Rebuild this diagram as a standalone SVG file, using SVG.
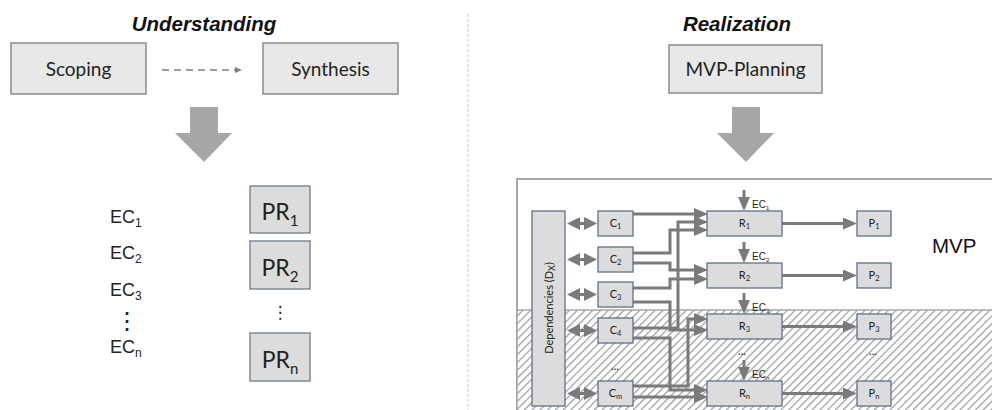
<svg xmlns="http://www.w3.org/2000/svg" width="992" height="410" viewBox="0 0 992 410">
<style>
.title{font-family:"Liberation Sans",Arial,sans-serif;font-weight:bold;font-style:italic;font-size:20.5px;fill:#111;text-anchor:middle}
.bigbox{fill:#e8e8e8;stroke:#8a8a8a;stroke-width:1.5}
.btxt{font-family:Lato,"Open Sans",sans-serif;font-size:19px;fill:#222;text-anchor:middle}
.prbox{fill:#dcdcdc;stroke:#7f8b99;stroke-width:1.5}
.prtxt{font-family:Lato,"Open Sans",sans-serif;font-size:23px;fill:#222;text-anchor:middle}
.ectxt{font-family:"Liberation Sans",Arial,sans-serif;font-size:18px;fill:#222}
.sbox{fill:#dcdcdc;stroke:#5f7188;stroke-width:1.3}
.stxt{font-family:Lato,"Open Sans",sans-serif;font-size:11px;fill:#222;text-anchor:middle}
.ec{font-family:"Liberation Sans",Arial,sans-serif;font-size:10px;fill:#222}
.con{fill:none;stroke:#7a7a7a;stroke-width:3;marker-end:url(#ah)}
.dbl{fill:none;stroke:#7a7a7a;stroke-width:3;marker-end:url(#dh);marker-start:url(#dh)}
.bigarrow{fill:#a6a6a6}
.dots{font-family:"DejaVu Sans",sans-serif;fill:#222;text-anchor:middle}
</style>
<defs>
<marker id="ah" viewBox="0 0 14 12" refX="4" refY="6" markerWidth="14" markerHeight="12" markerUnits="userSpaceOnUse" orient="auto-start-reverse">
<path d="M0,0 L14,6 L0,12 z" fill="#7a7a7a"/>
</marker>
<marker id="dh" viewBox="0 0 13 13" refX="4" refY="6.5" markerWidth="13" markerHeight="13" markerUnits="userSpaceOnUse" orient="auto-start-reverse">
<path d="M0,0 L13,6.5 L0,13 z" fill="#7a7a7a"/>
</marker>
<marker id="sh" viewBox="0 0 7 6" refX="1" refY="3" markerWidth="7" markerHeight="6" markerUnits="userSpaceOnUse" orient="auto">
<path d="M0,0 L7,3 L0,6 z" fill="#7f7f7f"/>
</marker>
<pattern id="hatch" width="5.5" height="5.5" patternUnits="userSpaceOnUse" patternTransform="rotate(45)">
<rect width="5.5" height="5.5" fill="#fff"/>
<line x1="0" y1="0" x2="0" y2="5.5" stroke="#999" stroke-width="2.4"/>
</pattern>
</defs>
<rect width="992" height="410" fill="#fff"/>

<line x1="468" y1="14" x2="468" y2="410" stroke="#c4c4c4" stroke-width="1" stroke-dasharray="3,2"/>

<text class="title" x="204" y="31">Understanding</text>
<text class="title" x="737" y="31">Realization</text>

<g id="scoping"><rect class="bigbox" x="11" y="43" width="135" height="51"/><text class="btxt" x="78.5" y="76">Scoping</text></g>
<g id="synthesis"><rect class="bigbox" x="263" y="43" width="135" height="51"/><text class="btxt" x="330.5" y="76">Synthesis</text></g>
<g id="mvp-planning"><rect class="bigbox" x="669" y="45" width="153" height="48"/><text class="btxt" x="745.5" y="76">MVP-Planning</text></g>

<g id="arrow-left"><path class="bigarrow" d="M190,107 H218 V133 H232 L204,162 L175,133 H190 Z"/></g>
<g id="arrow-right"><path class="bigarrow" d="M732,107 H760 V133 H774 L746,162 L717,133 H732 Z"/></g>

<g id="ec-list">
<text class="ectxt" x="110" y="223">EC<tspan font-size="12" dy="4">1</tspan></text>
<text class="ectxt" x="110" y="259">EC<tspan font-size="12" dy="4">2</tspan></text>
<text class="ectxt" x="110" y="296">EC<tspan font-size="12" dy="4">3</tspan></text>
<text class="dots" x="127" y="329" font-size="24">⋮</text>
<text class="ectxt" x="110" y="353">EC<tspan font-size="12" dy="4">n</tspan></text>
</g>

<g id="pr1"><rect class="prbox" x="250" y="186" width="60" height="47"/><text class="prtxt" x="280" y="220">PR<tspan font-size="15" dy="6">1</tspan></text></g>
<g id="pr2"><rect class="prbox" x="250" y="241" width="60" height="48"/><text class="prtxt" x="280" y="276">PR<tspan font-size="15" dy="6">2</tspan></text></g>
<text class="dots" x="280" y="318" font-size="17">⋮</text>
<g id="prn"><rect class="prbox" x="250" y="333" width="60" height="48"/><text class="prtxt" x="280" y="368">PR<tspan font-size="15" dy="6">n</tspan></text></g>

<g id="mvp-panel">
<rect x="517" y="179" width="480" height="240" fill="#fff" stroke="#a6a6a6" stroke-width="2"/>
<rect x="517" y="310" width="480" height="110" fill="url(#hatch)" stroke="#a6a6a6" stroke-width="1.5"/>
<text x="932" y="253" font-family="Liberation Sans,Arial,sans-serif" font-size="20.5" fill="#111">MVP</text>
</g>

<g id="connectors">
<path class="con" d="M633,214 H698"/>
<path class="con" d="M633,253 H670 V230 H698"/>
<path class="con" d="M633,328 H678 V222 H698"/>
<path class="con" d="M633,263 H670 V270 H698"/>
<path class="con" d="M633,288 H670 V279 H698"/>
<path class="con" d="M633,302 H670 V330 H698"/>
<path class="con" d="M633,386 H688 V319 H698"/>
<path class="con" d="M633,338 H670 V390 H698"/>
<path class="con" d="M633,397 H698"/>
<path class="dbl" d="M576,223.5 H588"/>
<path class="dbl" d="M576,259.5 H588"/>
<path class="dbl" d="M576,294.5 H588"/>
<path class="dbl" d="M576,330.5 H588"/>
<path class="dbl" d="M576,393.5 H588"/>
<path class="con" d="M782,223.5 H847"/>
<path class="con" d="M782,275.5 H847"/>
<path class="con" d="M782,326.5 H847"/>
<path class="con" d="M782,393.5 H847"/>
<path class="con" d="M744,190 V201"/>
<path class="con" d="M744,242 V253"/>
<path class="con" d="M744,293 V304"/>
<path class="con" d="M744,360 V371"/>
<path d="M162,70 H236" fill="none" stroke="#7f7f7f" stroke-width="1.5" stroke-dasharray="7,5" marker-end="url(#sh)"/>
</g>

<g id="dependencies"><rect class="sbox" x="532" y="211" width="33" height="195"/>
<text class="stxt" font-size="12.5" transform="translate(552.5,308) rotate(-90)">Dependencies (D<tspan font-size="9" dy="2">X</tspan><tspan dy="-2">)</tspan></text></g>

<g id="c1"><rect class="sbox" x="598" y="211" width="35" height="25"/><text class="stxt" x="615.5" y="227">C<tspan font-size="7.5" dy="2">1</tspan></text></g>
<g id="c2"><rect class="sbox" x="598" y="247" width="35" height="25"/><text class="stxt" x="615.5" y="263">C<tspan font-size="7.5" dy="2">2</tspan></text></g>
<g id="c3"><rect class="sbox" x="598" y="282" width="35" height="25"/><text class="stxt" x="615.5" y="298">C<tspan font-size="7.5" dy="2">3</tspan></text></g>
<g id="c4"><rect class="sbox" x="598" y="318" width="35" height="25"/><text class="stxt" x="615.5" y="334">C<tspan font-size="7.5" dy="2">4</tspan></text></g>
<text class="stxt" x="615" y="370">...</text>
<g id="cm"><rect class="sbox" x="598" y="381" width="35" height="25"/><text class="stxt" x="615.5" y="397">C<tspan font-size="7.5" dy="2">m</tspan></text></g>

<g id="r1"><rect class="sbox" x="707" y="211" width="75" height="25"/><text class="stxt" x="744.5" y="227">R<tspan font-size="7.5" dy="2">1</tspan></text></g>
<g id="r2"><rect class="sbox" x="707" y="263" width="75" height="25"/><text class="stxt" x="744.5" y="279">R<tspan font-size="7.5" dy="2">2</tspan></text></g>
<g id="r3"><rect class="sbox" x="707" y="314" width="75" height="25"/><text class="stxt" x="744.5" y="330">R<tspan font-size="7.5" dy="2">3</tspan></text></g>
<text class="stxt" x="742" y="355">...</text>
<g id="rn"><rect class="sbox" x="707" y="381" width="75" height="25"/><text class="stxt" x="744.5" y="397">R<tspan font-size="7.5" dy="2">n</tspan></text></g>

<g id="ec-labels">
<text class="ec" x="752" y="208">EC<tspan font-size="6" dy="2">1</tspan></text>
<text class="ec" x="752" y="260">EC<tspan font-size="6" dy="2">2</tspan></text>
<text class="ec" x="752" y="311">EC<tspan font-size="6" dy="2">3</tspan></text>
<text class="ec" x="752" y="378">EC<tspan font-size="6" dy="2">n</tspan></text>
</g>

<g id="p1"><rect class="sbox" x="857" y="211" width="34" height="25"/><text class="stxt" x="874" y="227">P<tspan font-size="7.5" dy="2">1</tspan></text></g>
<g id="p2"><rect class="sbox" x="857" y="263" width="34" height="25"/><text class="stxt" x="874" y="279">P<tspan font-size="7.5" dy="2">2</tspan></text></g>
<g id="p3"><rect class="sbox" x="857" y="314" width="34" height="25"/><text class="stxt" x="874" y="330">P<tspan font-size="7.5" dy="2">3</tspan></text></g>
<text class="stxt" x="873" y="355">...</text>
<g id="pn"><rect class="sbox" x="857" y="381" width="34" height="25"/><text class="stxt" x="874" y="397">P<tspan font-size="7.5" dy="2">n</tspan></text></g>
</svg>
